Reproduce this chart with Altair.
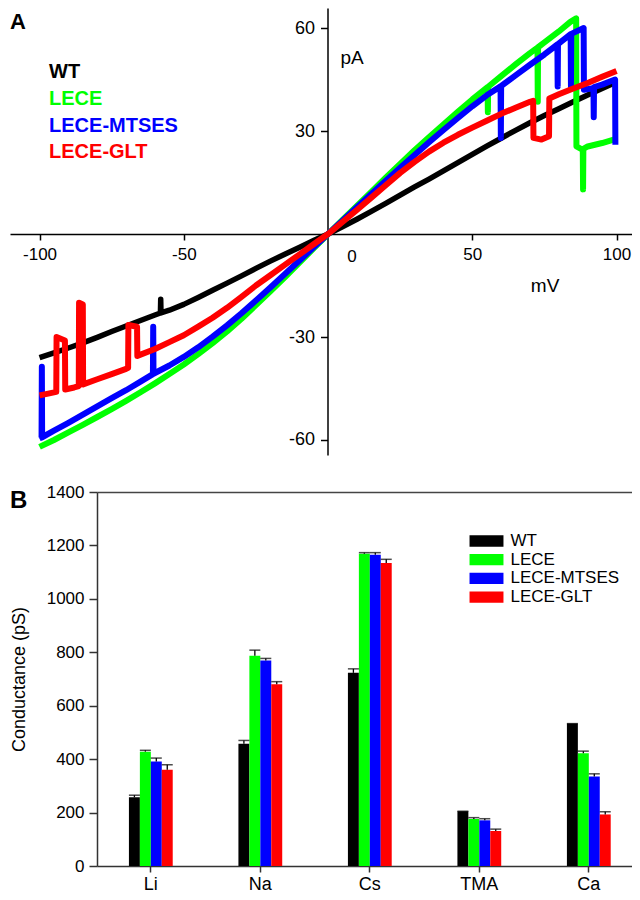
import altair as alt
import pandas as pd

FONT = "Liberation Sans"

series_names = ["WT", "LECE", "LECE-MTSES", "LECE-GLT"]
series_colors = ["#000000", "#00ff00", "#0000ff", "#ff0000"]

# ---------- Panel A: I-V traces (mV, pA) ----------
wt_mv = [-100, -95, -90, -85, -80, -75, -70, -65, -60, -58.1, -58, -57.9, -55, -50, -45, -40, -35, -30,
         -25, -20, -15, -10, -5, 0, 5, 10, 15, 20, 25, 30, 35, 40, 45, 50, 55, 60, 65, 70, 75, 80,
         85, 90, 95, 100]
wt_pa = [-36, -34.6, -33.2, -31.7, -30.1, -28.4, -26.8, -25.2, -23.6, -23, -19, -23, -22.2, -20.5,
         -18.5, -16.4, -14.3, -12.2, -10, -7.9, -5.9, -3.9, -1.9, 0, 2.1, 4.3, 6.6, 8.9, 11.3, 13.7,
         16, 18.4, 20.8, 23.2, 25.6, 27.9, 30.2, 32.4, 34.5, 36.5, 38.5, 40.5, 42.4, 44.3]

lece_mv = [-100, -95, -90, -85, -80, -75, -70, -65, -60, -55, -50, -45, -40, -35, -30, -25, -20, -15,
           -10, -5, 0, 5, 10, 15, 20, 25, 30, 35, 40, 45, 50, 55.3, 55.4, 55.5, 60, 65, 70, 72.6, 72.7,
           72.8, 75, 80, 84, 86, 86.1, 88.3, 88.4, 88.5, 90, 95, 99]
lece_pa = [-62, -60, -57.8, -55.6, -53.3, -51, -48.6, -46.1, -43.5, -40.8, -38, -35, -31.8, -28.4,
           -24.7, -20.7, -16.7, -12.6, -8.4, -4.2, 0, 4.1, 8.2, 12.3, 16.4, 20.4, 24.4, 28.2, 31.9,
           35.6, 39.2, 42.8, 35.5, 42.9, 46, 49.4, 52.7, 54.3, 38.5, 54.4, 55.8, 59, 61.8, 62.8, 25.5,
           24.5, 13, 24.8, 25.5, 26.5, 27.5]

mtses_mv = [-100, -99.3, -99.2, -99.1, -95, -90, -85, -80, -75, -70, -65, -60.7, -60.6, -60.5, -55,
            -50, -45, -40, -35, -30, -25, -20, -15, -10, -5, 0, 5, 10, 15, 20, 25, 30, 35, 40, 45, 50,
            55, 59.8, 59.9, 60, 65, 70, 75, 79.5, 79.6, 79.7, 84.1, 84.2, 84.3, 88.6, 88.7, 92, 92.1,
            92.2, 95, 99.5, 99.6]
mtses_pa = [-59.5, -59.3, -38.7, -59.2, -57.3, -55, -52.6, -50.2, -47.8, -45.5, -43, -40.8, -27,
            -40.7, -38.3, -35.8, -33, -29.9, -26.6, -23.1, -19.4, -15.6, -11.7, -7.8, -3.9, 0, 3.9,
            7.8, 11.7, 15.5, 19.3, 23, 26.7, 30.3, 33.8, 37.2, 40.4, 43, 28, 43.1, 46.2, 49.3, 52.3,
            55.2, 43, 55.3, 58.2, 43, 58.3, 60, 42, 42.5, 34, 42.8, 43.5, 45, 26]

glt_mv = [-100, -97, -94.2, -94.1, -91.2, -91.1, -88, -86.4, -86.3, -85, -84.9, -80, -75, -70, -69.3,
          -69.2, -66.2, -66.1, -60, -55, -50, -45, -40, -35, -30, -25, -20, -15, -10, -5, 0, 5, 10,
          15, 20, 25, 30, 35, 40, 45, 50, 55, 60, 65, 70, 71.1, 71.2, 74, 76.6, 76.7, 80, 85, 90, 95,
          100]
glt_pa = [-47, -46.5, -46, -30, -31, -45.3, -44.7, -44.3, -20, -20.5, -43.8, -42.3, -40.8, -39.3,
          -39, -26.5, -27, -35.5, -33.5, -31.5, -29.5, -27, -24.4, -21.5, -18.3, -15, -12, -9, -6,
          -3, 0, 3.5, 7, 10.6, 14.2, 17.8, 21, 24, 26.6, 28.9, 31, 33, 35, 36.8, 38.5, 38.8, 28,
          27.5, 28.5, 39.5, 40.7, 42.4, 44, 45.8, 47.5]

x_ticks_a = [-100, -50, 50, 100]
y_ticks_a = [-60, -30, 30, 60]

# ---------- Panel B: conductance bars ----------
ions = ["Li", "Na", "Cs", "TMA", "Ca"]
cond_wt = [257, 458, 723, 205, 533]
cond_lece = [428, 787, 1169, 176, 422]
cond_mtses = [391, 769, 1165, 171, 335]
cond_glt = [360, 680, 1134, 131, 193]
sem_wt = [8, 12, 15, 0, 0]
sem_lece = [5, 21, 4, 5, 8]
sem_mtses = [13, 8, 8, 6, 10]
sem_glt = [19, 10, 14, 7, 10]
y_ticks_b = [0, 200, 400, 600, 800, 1000, 1200, 1400]

# ================= Panel A =================
W = 622
H_A = 447
xs_a = alt.Scale(domain=[-110.24, 105.36], nice=False, zero=False)
ys_a = alt.Scale(domain=[-64.37, 65.83], nice=False, zero=False)

x_axis_a = alt.Axis(values=x_ticks_a, offset=-221, title=None, grid=False,
                    labelExpr="'' + datum.value",
                    domainColor="black", domainWidth=1.5, tickColor="black", tickWidth=1.5,
                    tickSize=6, labelFont=FONT, labelFontSize=17, labelColor="black",
                    labelPadding=6)
y_axis_a = alt.Axis(values=y_ticks_a, offset=-317.5, title=None, grid=False,
                    labelExpr="'' + datum.value",
                    domainColor="black", domainWidth=1.5, tickColor="black", tickWidth=1.5,
                    tickSize=7, labelFont=FONT, labelFontSize=18, labelColor="black",
                    labelPadding=6)

traces = [(series_names[0], series_colors[0], wt_mv, wt_pa, 5.5),
          (series_names[1], series_colors[1], lece_mv, lece_pa, 6),
          (series_names[2], series_colors[2], mtses_mv, mtses_pa, 6),
          (series_names[3], series_colors[3], glt_mv, glt_pa, 6)]

layers_a = []
for name, color, mv, pa, sw in traces:
    df = pd.DataFrame({"mV": mv, "pA": pa, "idx": list(range(len(mv)))})
    layers_a.append(
        alt.Chart(df).mark_line(color=color, strokeWidth=sw, strokeJoin="round", clip=True).encode(
            x=alt.X("mV:Q", scale=xs_a, axis=x_axis_a),
            y=alt.Y("pA:Q", scale=ys_a, axis=y_axis_a),
            order="idx:Q",
        )
    )

leg_a = pd.DataFrame({
    "mV": [-96.7] * 4,
    "pA": [45.35, 37.6, 29.8, 22.05],
    "label": series_names,
    "col": series_colors,
})
layers_a.append(
    alt.Chart(leg_a).mark_text(align="left", baseline="alphabetic", font=FONT, fontSize=20,
                               fontWeight="bold").encode(
        x=alt.X("mV:Q", scale=xs_a, axis=x_axis_a),
        y=alt.Y("pA:Q", scale=ys_a, axis=y_axis_a),
        text="label:N",
        color=alt.Color("col:N", scale=None),
    )
)

ann_a = pd.DataFrame({"mV": [4.3, 70.3, 6.7], "pA": [49.4, -16.9, -8.07], "label": ["pA", "mV", "0"],
                      "fs": [19, 19, 17]})
layers_a.append(
    alt.Chart(ann_a).mark_text(align="left", baseline="alphabetic", font=FONT, color="black").encode(
        x=alt.X("mV:Q", scale=xs_a, axis=x_axis_a),
        y=alt.Y("pA:Q", scale=ys_a, axis=y_axis_a),
        text="label:N",
        size=alt.Size("fs:Q", scale=None),
    )
)

panel_a_lbl = pd.DataFrame({"mV": [-110.24], "pA": [59.6], "label": ["A"]})
layers_a.append(
    alt.Chart(panel_a_lbl).mark_text(align="left", baseline="alphabetic", font=FONT, fontSize=22,
                                     fontWeight="bold", color="black").encode(
        x=alt.X("mV:Q", scale=xs_a, axis=x_axis_a),
        y=alt.Y("pA:Q", scale=ys_a, axis=y_axis_a),
        text="label:N",
    )
)

chart_a = alt.layer(*layers_a).properties(width=W, height=H_A)

# ================= Panel B =================
rows = []
for name, vals, sems in zip(series_names, [cond_wt, cond_lece, cond_mtses, cond_glt],
                            [sem_wt, sem_lece, sem_mtses, sem_glt]):
    for ion, v, s in zip(ions, vals, sems):
        rows.append({"ion": ion, "series": name, "value": v, "top": v + s})
df_b = pd.DataFrame(rows)

ys_b = alt.Scale(domain=[0, 1400], nice=False)
x_scale_b = alt.Scale(range=[87, W], paddingInner=0.6, paddingOuter=0.243, align=0.6)
xo_scale_b = alt.Scale(paddingInner=0, paddingOuter=0)

x_axis_b = alt.Axis(title=None, labelAngle=0, grid=False, domainColor="#333", domainWidth=1.5,
                    tickColor="#333", tickWidth=1.5, tickSize=6, labelFont=FONT, labelFontSize=18,
                    labelColor="black", labelPadding=3)
x_axis_b_top = alt.Axis(orient="top", title=None, labels=False, ticks=False, grid=False,
                        domainColor="#444", domainWidth=1.5)
y_axis_b = alt.Axis(title="Conductance  (pS)", values=y_ticks_b, format="d", offset=-87,
                    grid=False, domainColor="#333", domainWidth=1.5, tickColor="#333",
                    tickWidth=1.5, tickSize=8, labelFont=FONT, labelFontSize=17,
                    labelColor="black", labelPadding=5, titleFont=FONT, titleFontSize=18,
                    titleFontWeight="normal", titleColor="black", titlePadding=18)

xo_b = alt.XOffset("series:N", sort=series_names, scale=xo_scale_b)

bars = alt.Chart(df_b).mark_bar().encode(
    x=alt.X("ion:N", sort=ions, scale=x_scale_b, axis=x_axis_b),
    xOffset=xo_b,
    y=alt.Y("value:Q", scale=ys_b, axis=y_axis_b),
    color=alt.Color("series:N", scale=alt.Scale(domain=series_names, range=series_colors),
                    legend=alt.Legend(title=None, orient="none", legendX=468, legendY=40.5,
                                      symbolType="M-3,-1H3V1H-3Z", symbolSize=128,
                                      symbolStrokeWidth=0, labelFont=FONT, labelFontSize=17,
                                      labelColor="black", labelOffset=15.5, rowPadding=0.7,
                                      padding=0)),
)

err_rule = alt.Chart(df_b).mark_rule(color="black", strokeWidth=1.3).encode(
    x=alt.X("ion:N", sort=ions, scale=x_scale_b, axis=None),
    xOffset=xo_b,
    y=alt.Y("value:Q", scale=ys_b, axis=y_axis_b),
    y2="top:Q",
)
err_cap = alt.Chart(df_b).mark_tick(color="black", thickness=1.5, size=11).encode(
    x=alt.X("ion:N", sort=ions, scale=x_scale_b, axis=None),
    xOffset=xo_b,
    y=alt.Y("top:Q", scale=ys_b, axis=y_axis_b),
)

top_frame = alt.Chart(df_b).mark_tick(opacity=0).encode(
    x=alt.X("ion:N", sort=ions, scale=x_scale_b, axis=x_axis_b_top),
    y=alt.Y("value:Q", scale=ys_b, axis=y_axis_b),
)

panel_b_lbl = alt.Chart(pd.DataFrame({"label": ["B"]})).mark_text(
    align="left", baseline="alphabetic", font=FONT, fontSize=24, fontWeight="bold", color="black"
).encode(x=alt.value(0), y=alt.value(16), text="label:N")

chart_b = alt.layer(top_frame, bars, err_rule, err_cap, panel_b_lbl).resolve_axis(
    x="independent"
).properties(width=W, height=374)

chart = alt.vconcat(chart_a, chart_b, spacing=28).resolve_scale(color="independent").properties(
    padding={"left": 2, "top": 0, "right": 0, "bottom": 0}
).configure_view(stroke=None).configure_axis(grid=False)

chart.save("out.html", embed_options={"renderer": "svg", "actions": False})
